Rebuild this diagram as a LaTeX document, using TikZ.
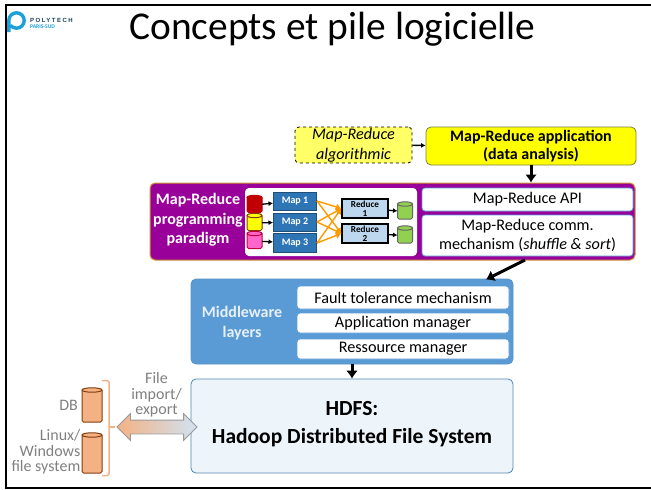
\documentclass[tikz,border=0pt]{standalone}
\usepackage{fontspec}
\setmainfont{Carlito}
\newfontfamily\logofont[LetterSpace=25]{Liberation Sans}
\usetikzlibrary{arrows.meta,shapes.arrows}
\definecolor{custcol_yellow}{RGB}{255, 255, 0}
\definecolor{custcol_lightyellow}{RGB}{255, 255, 102}
\definecolor{custcol_olive}{RGB}{120, 130, 60}
\definecolor{custcol_purple}{RGB}{153, 0, 153}
\definecolor{custcol_gold}{RGB}{205, 150, 50}
\definecolor{custcol_blue}{RGB}{91, 155, 213}
\definecolor{custcol_steel}{RGB}{46, 117, 182}
\definecolor{custcol_navy}{RGB}{31, 78, 121}
\definecolor{custcol_pale}{RGB}{237, 245, 250}
\definecolor{custcol_reduce}{RGB}{189, 215, 238}
\definecolor{custcol_orange}{RGB}{255, 153, 0}
\definecolor{custcol_peach}{RGB}{244, 177, 131}
\definecolor{custcol_brown}{RGB}{132, 60, 12}
\definecolor{custcol_grey}{RGB}{128, 128, 128}
\definecolor{custcol_logo}{RGB}{27, 160, 216}
\definecolor{custcol_darkred}{RGB}{192, 0, 0}
\definecolor{custcol_pink}{RGB}{255, 102, 204}
\definecolor{custcol_green}{RGB}{146, 208, 80}
\definecolor{custcol_wine}{RGB}{192, 0, 60}
\definecolor{custcol_ash}{RGB}{100, 100, 100}
\tikzset{
  panel/.style={draw=custcol_blue, line width=0.8pt, rounded corners=3pt, fill=white, inner sep=0, align=center, font=\fontsize{16.2}{19}\selectfont},
  mapbox/.style={draw=custcol_navy, line width=1pt, fill=custcol_steel, text=white, inner sep=0, minimum width=43pt, font=\fontsize{10}{11}\bfseries\selectfont},
  reducebox/.style={draw=black, line width=1.3pt, fill=custcol_reduce, inner sep=0, minimum width=46pt, minimum height=19pt, align=center, font=\fontsize{9.2}{9}\bfseries\selectfont},
  canspot/.style={inner sep=0, outer sep=0},
  link/.style={-{Latex[length=4.5pt,width=5pt]}, line width=1.3pt, black},
  flow/.style={-{Latex[length=5.5pt,width=7pt]}, line width=1.4pt, custcol_orange},
  bigarrow/.style={-{Latex[length=8pt,width=12pt]}, line width=3pt, black},
  greytext/.style={text=custcol_grey, inner sep=0, align=right, font=\fontsize{16}{15.5}\selectfont},
}
% name, centre x, centre y, width, height, fill, line
\newcommand{\drawcan}[7]{
  \node (#1) [canspot, minimum width=#4pt, minimum height=#5pt] at (#2,#3) {};
  \draw [fill=#6, draw=#7, line width=1pt, rounded corners=1.5pt] (#1.north west) -- (#1.south west) -- (#1.south east) -- (#1.north east);
  \draw [fill=#6, draw=#7, line width=1pt] (#1.north) ellipse ({#4/2} and 2.2);
}
\begin{document}
\begin{tikzpicture}[x=1pt,y=-1pt]
\useasboundingbox (0,0) rectangle (651,490);
\draw [line width=2pt, black] (651,4.5) -- (5.5,4.5) -- (5.5,488) -- (651,488);
% logo
\draw [line width=3.4pt, custcol_logo] (8.8,32) -- (8.8,20.5) arc (180:500:7.7);
\node (logoA) [inner sep=0, anchor=west, text=custcol_navy!80!black] at (30,20.5) {\logofont\fontsize{6}{7}\bfseries\selectfont POLYTECH};
\node (logoB) [inner sep=0, anchor=west, text=custcol_logo] at (30,26.5) {\fontsize{5.6}{6}\bfseries\selectfont PARIS-SUD};
\node (title) [inner sep=0, anchor=base] at (332.5,39.5) {\fontsize{39.4}{42}\selectfont Concepts et pile logicielle};
% application
\node (algo) [draw=black, dashed, line width=0.8pt, rounded corners=4pt, fill=custcol_lightyellow, inner sep=0, minimum width=117pt, minimum height=36pt, align=center, font=\fontsize{16.2}{20}\itshape\selectfont] at (353.5,145) {Map-Reduce\\algorithmic};
\node (appli) [draw=custcol_olive, line width=0.8pt, rounded corners=5pt, fill=custcol_yellow, inner sep=0, minimum width=210pt, minimum height=38pt, align=center, font=\fontsize{16}{18.5}\bfseries\selectfont] at (531,146) {Map-Reduce application\\(data analysis)};
\draw [link] (algo) -- (appli);
% programming paradigm
\node (purple) [draw=custcol_gold, line width=1pt, rounded corners=5pt, fill=custcol_purple, minimum width=485pt, minimum height=77pt] at (392.5,221.5) {};
\node (paradigm) [inner sep=0, text=white, align=center, font=\fontsize{16}{19.5}\bfseries\selectfont] at (198,220) {Map-Reduce\\programming\\paradigm};
\node (inner) [fill=white, rounded corners=4pt, minimum width=172pt, minimum height=68pt] at (331,222) {};
\node (api) [panel, minimum width=211pt, minimum height=23pt] at (527.5,199.5) {Map-Reduce API};
\node (comm) [panel, minimum width=211pt, minimum height=41pt] at (527.5,235.5) {Map-Reduce comm.\\mechanism (\textit{shuffle \& sort})};
\drawcan{inA}{254.5}{205}{15}{15}{custcol_darkred}{custcol_darkred}
\drawcan{inB}{254.5}{223}{15}{15}{custcol_yellow}{custcol_brown}
\drawcan{inC}{254.5}{241}{15}{15}{custcol_pink}{custcol_wine}
\node (mapA) [mapbox, minimum height=18pt] at (295,201) {Map 1};
\node (mapB) [mapbox, minimum height=18pt] at (295,222) {Map 2};
\node (mapC) [mapbox, minimum height=19pt] at (295,243) {Map 3};
\node (redA) [reducebox] at (365,208.5) {Reduce\\1};
\node (redB) [reducebox] at (365,233.5) {Reduce\\2};
\drawcan{outA}{405}{211.5}{15}{15}{custcol_green}{custcol_ash}
\drawcan{outB}{405}{235.5}{15}{15}{custcol_green}{custcol_ash}
\draw [link] (inA) -- (mapA);
\draw [link] (inB) -- (mapB);
\draw [link] (inC) -- (mapC);
\foreach \m in {mapA,mapB,mapC} \foreach \r in {redA,redB} \draw [flow] (\m.east) -- (\r.west);
\draw [link] (redA) -- (outA);
\draw [link] (redB) -- (outB);
\draw [bigarrow] (appli) -- (appli |- purple.north);
% middleware
\node (middle) [draw=custcol_steel!80, line width=0.8pt, rounded corners=5pt, fill=custcol_blue, minimum width=322pt, minimum height=85pt] at (352,321.5) {};
\node (layers) [inner sep=0, text=white!85!custcol_blue, align=center, font=\fontsize{16}{20}\bfseries\selectfont] at (242,323) {Middleware\\layers};
\node (fault) [panel, minimum width=212pt, minimum height=23pt] at (403,297.5) {Fault tolerance mechanism};
\node (appman) [panel, minimum width=212pt, minimum height=20pt] at (403,323) {Application manager};
\node (resman) [panel, minimum width=212pt, minimum height=20pt] at (403,349) {Ressource manager};
\coordinate (commfoot) at (525,260);
\coordinate (middlehead) at (486,279.5);
\draw [bigarrow] (commfoot) -- (middlehead);
% hdfs
\node (hdfs) [draw=custcol_blue!85!black, line width=0.8pt, rounded corners=5pt, fill=custcol_pale, minimum width=322pt, minimum height=94pt, align=center, font=\fontsize{21.5}{28}\bfseries\selectfont] at (352,426) {HDFS:\\Hadoop Distributed File System\rule[-7pt]{0pt}{7pt}};
\draw [bigarrow] (middle) -- (hdfs);
% external stores
\drawcan{db}{92}{406}{20}{32}{custcol_peach}{custcol_brown}
\drawcan{fs}{92}{454}{20}{38}{custcol_peach}{custcol_brown}
\node (dblabel) [greytext, anchor=east] at (78,405) {DB};
\node (fslabel) [greytext, anchor=east] at (80.5,452) {Linux/\\Windows\\file system};
\coordinate (bracetip) at (115,427);
\coordinate (bracemid) at (109,427);
\draw [line width=1.5pt, custcol_peach, rounded corners=2pt] (102,380.5) -- (109,380.5) -- (109,475.5) -- (102,475.5);
\draw [line width=1.5pt, custcol_peach] (bracemid) -- (bracetip);
\node (transfer) [shape=double arrow, draw=custcol_grey!80, line width=0.8pt, left color=custcol_peach, right color=custcol_reduce!70!white, minimum height=80pt, double arrow head extend=6.5pt, inner sep=0] at (157,427) {\rule{0pt}{13pt}};
\node (filelabel) [greytext, align=center] at (156.5,395) {File\\import/\\export};
\end{tikzpicture}
\end{document}
